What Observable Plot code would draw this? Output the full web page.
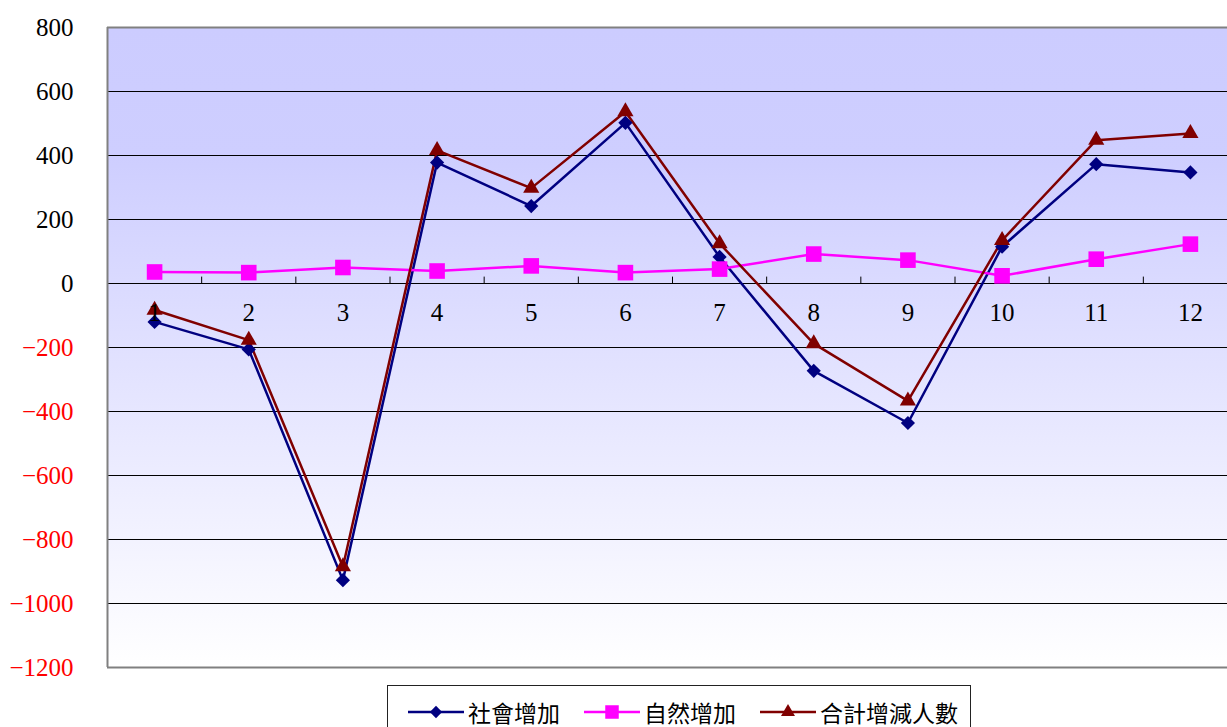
<!DOCTYPE html>
<html>
<head>
<meta charset="utf-8">
<script src="https://cdn.jsdelivr.net/npm/d3@7"></script>
<script src="https://cdn.jsdelivr.net/npm/@observablehq/plot@0.6"></script>
<style>
  html, body { margin: 0; padding: 0; background: #fff; overflow: hidden; width: 1227px; height: 727px; }
  #chart { position: absolute; left: 0; top: 0; width: 1240px; }
  #chart svg { max-width: none !important; }
  #legend { position: absolute; left: 387px; top: 685px; width: 584px; height: 60px; border: 1px solid #222; box-sizing: border-box; background: #fff;
    display: flex; align-items: flex-start; padding-left: 20px; padding-top: 12px; font-family: "Noto Sans CJK TC", sans-serif; font-size: 23px; color: #000; white-space: nowrap; }
  .item { display: flex; align-items: center; margin-right: 24px; height: 28px; flex: none; white-space: nowrap; }
  .item svg { margin-right: 4px; flex: none; }
  .item span { flex: none; white-space: nowrap; }
</style>
</head>
<body>
<div id="chart"></div>
<div id="legend"></div>
<script>
const months = [1, 2, 3, 4, 5, 6, 7, 8, 9, 10, 11, 12];
const monthLabels = ["1", "2", "3", "4", "5", "6", "7", "8", "9", "10", "11", "12"];
const seriesNames = ["社會增加", "自然增加", "合計增減人數"];
const social  = [-120, -206, -927, 378, 242, 502, 83, -273, -436, 115, 373, 347];
const natural = [36, 34, 50, 39, 55, 34, 45, 92, 73, 24, 76, 123];
const total   = [-83, -177, -885, 416, 298, 537, 125, -188, -367, 135, 448, 469];
const yTicks = [800, 600, 400, 200, 0, -200, -400, -600, -800, -1000, -1200];

const colors = ["#000080", "#ff00ff", "#800000"];
const symbols = ["diamond2", "square", "triangle"];
const radii = [6.4, 8.8, 6.0];
const values = [social, natural, total];

const rows = [];
values.forEach((arr, s) => arr.forEach((v, i) => rows.push({series: seriesNames[s], month: months[i], value: v})));

const bounds = months.slice(0, -1).map(m => m + 0.5);
const yMax = d3.max(yTicks), yMin = d3.min(yTicks);
const serif = "Liberation Serif, DejaVu Serif, serif";

const marks = [
  Plot.frame({fill: "url(#bgGrad)", stroke: null}),
  Plot.ruleY(yTicks.filter(t => t !== yMax && t !== yMin), {y: d => d, stroke: "#000", strokeWidth: 1}),
  Plot.ruleY([yMax, yMin], {y: d => d, stroke: "#808080", strokeWidth: 2}),
  Plot.ruleX([months[0] - 0.5], {x: d => d, stroke: "#808080", strokeWidth: 2}),
  Plot.ruleX(bounds, {x: d => d, y1: 0, y2: 20, stroke: "#000", strokeWidth: 1}),
  Plot.text(yTicks, {y: d => d, frameAnchor: "left", dx: -34, textAnchor: "end",
    text: d => (d < 0 ? "\u2212" + Math.abs(d) : String(d)),
    fill: d => (d < 0 ? "#ff0000" : "#000000"), fontSize: 25})
];
seriesNames.forEach((name, s) => {
  const data = rows.filter(r => r.series === name);
  marks.push(Plot.line(data, {x: "month", y: "value", stroke: colors[s], strokeWidth: 2.5}));
});
seriesNames.forEach((name, s) => {
  const data = rows.filter(r => r.series === name);
  marks.push(Plot.dot(data, {x: "month", y: "value", symbol: () => symbols[s], fill: colors[s], stroke: "none", r: radii[s]}));
});
marks.push(Plot.text(months, {x: d => d, y: 0, dy: 29, text: (d, i) => monthLabels[i], fill: "#000", fontSize: 25}));

const plot = Plot.plot({
  width: 1240,
  height: 683,
  marginLeft: 107,
  marginRight: 3,
  marginTop: 27,
  marginBottom: 16,
  x: {type: "linear", domain: [months[0] - 0.5, months[months.length - 1] + 0.5], axis: null},
  y: {domain: [yMin, yMax], axis: null},
  symbol: {type: "identity"},
  style: {background: "#fff", overflow: "visible", maxWidth: "none", fontFamily: serif},
  marks
});

d3.select(plot).insert("defs", ":first-child").html(
  '<linearGradient id="bgGrad" x1="0" y1="0" x2="0" y2="1">' +
  '<stop offset="0" stop-color="#ccccff"/>' +
  '<stop offset="0.2" stop-color="#ceceff"/>' +
  '<stop offset="1" stop-color="#ffffff"/>' +
  '</linearGradient>');
d3.select(plot).selectAll("text").style("font-family", serif);
document.getElementById("chart").appendChild(plot);

// legend
const legend = d3.select("#legend");
seriesNames.forEach((name, s) => {
  const item = legend.append("div").attr("class", "item");
  const svg = item.append("svg").attr("width", 56).attr("height", 20);
  svg.append("line").attr("x1", 0).attr("x2", 56).attr("y1", 10).attr("y2", 10).attr("stroke", colors[s]).attr("stroke-width", 2.5);
  const sym = {diamond2: d3.symbolDiamond2, square: d3.symbolSquare, triangle: d3.symbolTriangle}[symbols[s]];
  svg.append("path").attr("transform", "translate(28,10)").attr("d", d3.symbol(sym, Math.PI * radii[s] * radii[s] * 0.75)()).attr("fill", colors[s]);
  item.append("span").text(name);
});
</script>
</body>
</html>
